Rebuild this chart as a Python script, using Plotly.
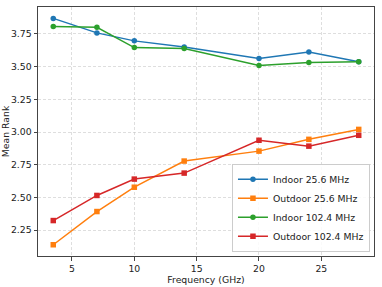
import plotly.graph_objects as go

freq = [3.5, 7, 10, 14, 20, 24, 28]
indoor_25 = [3.869, 3.758, 3.697, 3.651, 3.562, 3.611, 3.537]
outdoor_25 = [2.138, 2.392, 2.578, 2.778, 2.854, 2.944, 3.020]
indoor_102 = [3.806, 3.801, 3.646, 3.638, 3.508, 3.532, 3.537]
outdoor_102 = [2.323, 2.515, 2.640, 2.686, 2.937, 2.892, 2.975]

series = [
    ("Indoor 25.6 MHz", indoor_25, "#1f77b4", "circle"),
    ("Outdoor 25.6 MHz", outdoor_25, "#ff7f0e", "square"),
    ("Indoor 102.4 MHz", indoor_102, "#2ca02c", "circle"),
    ("Outdoor 102.4 MHz", outdoor_102, "#d62728", "square"),
]

FS = 9.3

fig = go.Figure()
for name, vals, color, sym in series:
    fig.add_trace(go.Scatter(
        x=freq, y=vals, name=name, mode="lines+markers",
        line=dict(color=color, width=1.5),
        marker=dict(color=color, symbol=sym, size=5.5),
    ))

axis_common = dict(
    showline=True, linecolor="#444444", linewidth=1, mirror=True,
    ticks="outside", ticklen=3.5, tickcolor="#444444", tickwidth=0.8,
    showgrid=True, gridcolor="rgba(190,190,190,0.5)", griddash="3px,2px", gridwidth=0.8,
    zeroline=False, automargin=False,
    tickfont=dict(family="DejaVu Sans", size=FS, color="#222222"),
)

fig.update_layout(
    width=382, height=287,
    margin=dict(l=38, r=8, t=7, b=31),
    paper_bgcolor="white", plot_bgcolor="white",
    font=dict(family="DejaVu Sans", size=FS, color="#222222"),
    xaxis=dict(range=[2.275, 29.225], tickvals=[5, 10, 15, 20, 25],
               title=dict(text="Frequency (GHz)", standoff=2,
                          font=dict(family="DejaVu Sans", size=FS)),
               **axis_common),
    yaxis=dict(range=[2.052, 3.956], tickvals=[2.25, 2.5, 2.75, 3.0, 3.25, 3.5, 3.75],
               ticktext=["2.25", "2.50", "2.75", "3.00", "3.25", "3.50", "3.75"],
               title=dict(text="Mean Rank", standoff=2,
                          font=dict(family="DejaVu Sans", size=FS)),
               **axis_common),
    legend=dict(x=0.988, y=0.017, xanchor="right", yanchor="bottom",
                bgcolor="rgba(255,255,255,0.85)", bordercolor="#cccccc", borderwidth=1,
                font=dict(family="DejaVu Sans", size=FS), itemwidth=30,
                tracegroupgap=0),
    showlegend=True,
)

fig.write_html("out.html", config={"displayModeBar": False},
               post_script="document.body.style.margin='0';document.body.style.padding='0';")
